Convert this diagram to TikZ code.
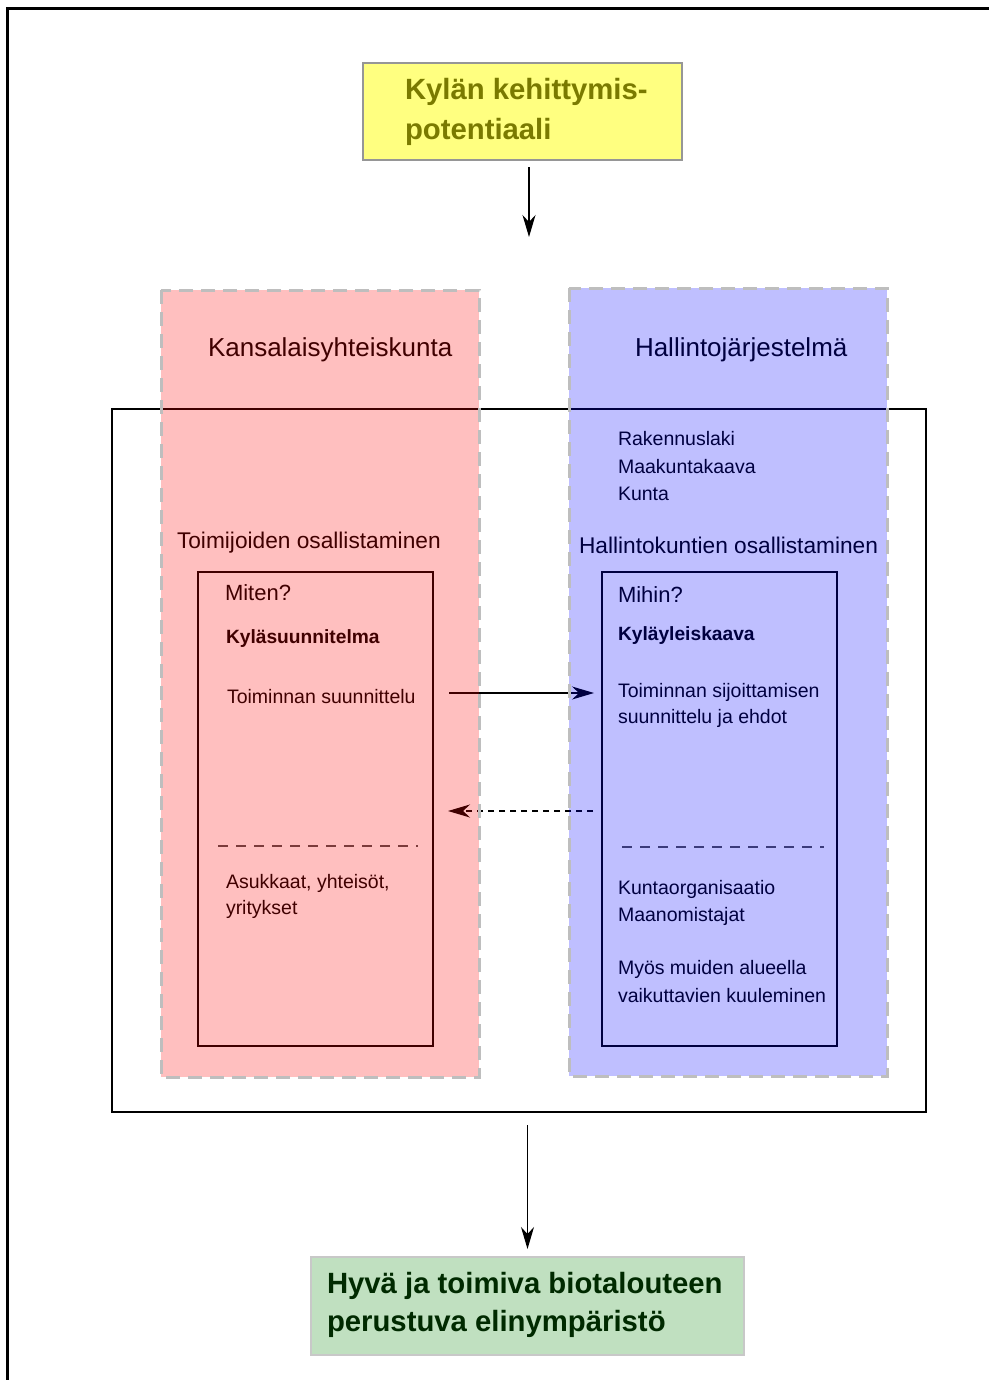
\documentclass[tikz,border=0pt]{standalone}
\usepackage{fontspec}
\setmainfont{Liberation Sans}
\usetikzlibrary{arrows.meta}
\definecolor{olivetxt}{RGB}{122,122,0}
\definecolor{yellowfill}{RGB}{255,255,128}
\definecolor{greenfill}{RGB}{192,224,192}
\definecolor{greentxt}{RGB}{0,42,0}
\definecolor{boxedge}{RGB}{150,150,150}
\definecolor{lightedge}{RGB}{200,200,200}
\definecolor{dashedge}{RGB}{190,190,190}
\definecolor{sepgray}{RGB}{80,80,80}
\begin{document}
\begin{tikzpicture}[x=1pt,y=-1pt,
  txt/.style={anchor=base west, inner sep=0pt, outer sep=0pt},
  big/.style={txt, font=\fontsize{26}{30}\selectfont},
  mid/.style={txt, font=\fontsize{22.7}{27}\selectfont},
  small/.style={txt, font=\fontsize{19.5}{26}\selectfont},
  smallbold/.style={txt, font=\fontsize{19.2}{26}\selectfont\bfseries},
  titletxt/.style={txt, font=\fontsize{29.3}{38}\selectfont\bfseries},
  tip/.style={-{Stealth[length=22pt,width=13pt,inset=7pt]}},
  overlay/.style={fill opacity=0.25, draw=dashedge, line width=3pt,
    dash pattern=on 14pt off 8pt},
  innerbox/.style={draw=black, line width=2pt},
  sep/.style={draw=sepgray, line width=1.5pt, dash pattern=on 10pt off 8pt}
]
\useasboundingbox (0,0) rectangle (989,1380);
\fill[white] (0,0) rectangle (989,1380);

% page frame (left and top edges)
\draw[line width=3pt] (7,1380) -- (7,9) -- (989,9);

% top box
\node[draw=boxedge, line width=2.5pt, fill=yellowfill, minimum width=319pt,
  minimum height=97pt, inner sep=0pt] (ybox) at (522.5,111.5) {};
\node[titletxt, text=olivetxt] (y1) at (405,100) {Kylän kehittymis-};
\node[titletxt, text=olivetxt] (y2) at (405,140) {potentiaali};
\coordinate (ytarget) at (529,237);
\draw[tip, line width=1.2pt, shorten <=6pt] (ybox.south -| ytarget) -- (ytarget);

% planning frame
\node[draw=black, line width=2pt, minimum width=814pt, minimum height=703pt,
  inner sep=0pt] (frame) at (519,760.5) {};

% inner boxes
\node[innerbox, minimum width=235pt, minimum height=474pt, inner sep=0pt]
  (lbox) at (315.5,809) {};
\node[innerbox, minimum width=235pt, minimum height=474pt, inner sep=0pt]
  (rbox) at (719.5,809) {};
\draw[sep] (218,846) -- (418,846);
\draw[sep] (622,847) -- (824,847);

% headings
\node[big] (k1) at (208,356) {Kansalaisyhteiskunta};
\node[big] (h1) at (635,356) {Hallintojärjestelmä};
\node[small] (r1) at (618,445) {Rakennuslaki};
\node[small] (r2) at (618,473) {Maakuntakaava};
\node[small] (r3) at (618,500) {Kunta};
\node[mid] (to1) at (177,548) {Toimijoiden osallistaminen};
\node[mid] (ho1) at (579,553) {Hallintokuntien osallistaminen};

% left column text
\node[mid, font=\fontsize{22}{27}\selectfont] (miten) at (225,600) {Miten?};
\node[smallbold] (ks) at (226,643) {Kyläsuunnitelma};
\node[small] (ts) at (227,703) {Toiminnan suunnittelu};
\node[small] (as1) at (226,888) {Asukkaat, yhteisöt,};
\node[small] (as2) at (226,914) {yritykset};

% right column text
\node[mid, font=\fontsize{22}{27}\selectfont] (mihin) at (618,602) {Mihin?};
\node[smallbold] (ky) at (618,640) {Kyläyleiskaava};
\node[small] (tsi1) at (618,697) {Toiminnan sijoittamisen};
\node[small] (tsi2) at (618,723) {suunnittelu ja ehdot};
\node[small] (ku1) at (618,894) {Kuntaorganisaatio};
\node[small] (ku2) at (618,921) {Maanomistajat};
\node[small] (my1) at (618,974) {Myös muiden alueella};
\node[small] (my2) at (618,1002) {vaikuttavien kuuleminen};

% connectors between the two columns
\coordinate (a1) at (449,693);
\draw[tip, line width=1.2pt, shorten >=7pt] (a1) -- (rbox.west |- a1);
\coordinate (a2) at (593,811);
\draw[tip, line width=1.2pt, dash pattern=on 6pt off 5pt, shorten >=14pt]
  (a2) -- (lbox.east |- a2);

% translucent column bands
\draw[overlay, fill=red] (161,290) rectangle (479,1077);
\draw[overlay, fill=blue] (569,288) rectangle (887,1076);

% result box
\node[draw=lightedge, line width=2pt, fill=greenfill, minimum width=433pt,
  minimum height=98pt, inner sep=0pt] (gbox) at (527.5,1306) {};
\node[titletxt, text=greentxt] (g1) at (327,1293) {Hyvä ja toimiva biotalouteen};
\node[titletxt, text=greentxt] (g2) at (327,1331) {perustuva elinympäristö};
\draw[tip, line width=1.2pt, shorten <=12pt, shorten >=7pt]
  (frame.south -| gbox.north) -- (gbox.north);
\end{tikzpicture}
\end{document}
